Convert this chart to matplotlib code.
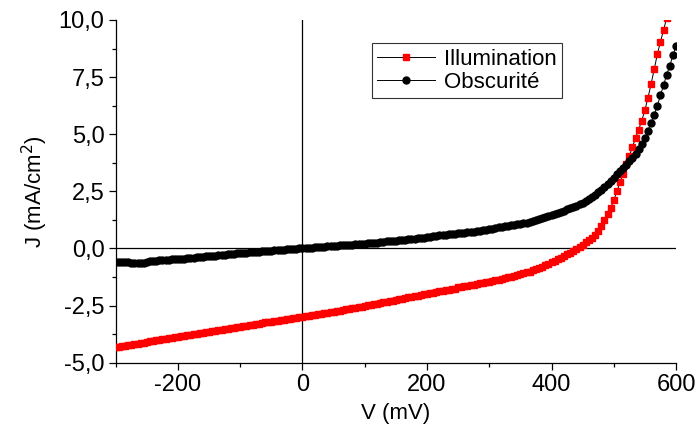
import numpy as np
import matplotlib
matplotlib.use("Agg")
import matplotlib.pyplot as plt
from matplotlib.ticker import MultipleLocator, FuncFormatter

plt.rcParams['font.family'] = ['Liberation Sans', 'DejaVu Sans']
plt.rcParams['axes.unicode_minus'] = False

# voltage sweep (mV), 5 mV step
volts = list(range(-300, 605, 5))

# current density under light (mA/cm2)
j_illum = [-4.33, -4.31, -4.28, -4.26, -4.24, -4.22, -4.20, -4.17, -4.15, -4.12,
           -4.10, -4.07, -4.05, -4.02, -4.00, -3.98, -3.96, -3.94, -3.92, -3.89,
           -3.87, -3.85, -3.83, -3.80, -3.78, -3.76, -3.74, -3.71, -3.69, -3.66,
           -3.64, -3.62, -3.60, -3.58, -3.56, -3.53, -3.51, -3.49, -3.47, -3.44,
           -3.42, -3.40, -3.38, -3.35, -3.33, -3.31, -3.29, -3.26, -3.24, -3.22,
           -3.20, -3.18, -3.16, -3.14, -3.12, -3.09, -3.07, -3.05, -3.03, -3.01,
           -2.99, -2.97, -2.95, -2.92, -2.90, -2.88, -2.86, -2.83, -2.81, -2.79,
           -2.77, -2.74, -2.72, -2.69, -2.67, -2.64, -2.62, -2.59, -2.57, -2.54,
           -2.52, -2.49, -2.47, -2.44, -2.41, -2.39, -2.36, -2.33, -2.30, -2.28,
           -2.25, -2.22, -2.20, -2.17, -2.14, -2.12, -2.09, -2.06, -2.03, -2.01,
           -1.98, -1.96, -1.93, -1.91, -1.88, -1.86, -1.83, -1.81, -1.78, -1.76,
           -1.70, -1.68, -1.66, -1.63, -1.61, -1.58, -1.56, -1.53, -1.50, -1.48,
           -1.45, -1.42, -1.39, -1.36, -1.33, -1.30, -1.27, -1.24, -1.20, -1.17,
           -1.13, -1.09, -1.05, -1.01, -0.96, -0.91, -0.86, -0.79, -0.72, -0.66,
           -0.60, -0.54, -0.47, -0.40, -0.33, -0.26, -0.18, -0.11, -0.04, 0.06,
           0.16, 0.27, 0.38, 0.48, 0.60, 0.75, 1.00, 1.25, 1.50, 1.78,
           2.10, 2.50, 2.90, 3.28, 3.68, 4.05, 4.45, 4.84, 5.20, 5.60,
           6.05, 6.60, 7.20, 7.85, 8.50, 9.05, 9.55, 10.10, 10.70, 11.30,
           11.90]

# current density in the dark (mA/cm2)
j_dark = [-0.60, -0.59, -0.60, -0.61, -0.61, -0.62, -0.63, -0.65, -0.64, -0.62,
          -0.58, -0.56, -0.55, -0.54, -0.52, -0.51, -0.50, -0.49, -0.48, -0.47,
          -0.46, -0.45, -0.44, -0.42, -0.41, -0.40, -0.39, -0.37, -0.36, -0.35,
          -0.34, -0.32, -0.31, -0.30, -0.29, -0.27, -0.26, -0.24, -0.23, -0.22,
          -0.21, -0.20, -0.19, -0.17, -0.16, -0.15, -0.14, -0.12, -0.11, -0.10,
          -0.09, -0.08, -0.07, -0.06, -0.05, -0.04, -0.03, -0.02, -0.01, 0.00,
          0.00, 0.02, 0.03, 0.04, 0.05, 0.06, 0.07, 0.08, 0.09, 0.10,
          0.11, 0.12, 0.13, 0.14, 0.15, 0.16, 0.17, 0.18, 0.19, 0.20,
          0.21, 0.23, 0.24, 0.25, 0.26, 0.28, 0.29, 0.31, 0.32, 0.33,
          0.34, 0.36, 0.37, 0.39, 0.40, 0.42, 0.43, 0.45, 0.46, 0.48,
          0.49, 0.51, 0.53, 0.55, 0.57, 0.59, 0.60, 0.62, 0.63, 0.65,
          0.66, 0.68, 0.69, 0.71, 0.72, 0.74, 0.76, 0.78, 0.80, 0.82,
          0.84, 0.87, 0.90, 0.92, 0.94, 0.97, 0.99, 1.01, 1.03, 1.06,
          1.08, 1.10, 1.13, 1.16, 1.20, 1.24, 1.28, 1.32, 1.36, 1.40,
          1.45, 1.50, 1.55, 1.60, 1.66, 1.71, 1.77, 1.82, 1.88, 1.94,
          2.00, 2.08, 2.15, 2.25, 2.35, 2.45, 2.56, 2.69, 2.82, 2.96,
          3.10, 3.24, 3.38, 3.52, 3.66, 3.82, 3.97, 4.15, 4.35, 4.58,
          4.85, 5.15, 5.50, 5.85, 6.25, 6.70, 7.15, 7.60, 8.00, 8.45,
          8.85]

fig = plt.figure(figsize=(6.98, 4.30), dpi=100)
ax = fig.add_axes([0.1658, 0.1565, 0.8027, 0.797])

ax.axhline(0, color='black', lw=0.9, zorder=1)
ax.axvline(0, color='black', lw=0.9, zorder=1)

ax.plot(volts, j_illum, color='black', lw=0.7, marker='s', ms=5.0,
        mfc='red', mec='red', label='Illumination', zorder=3)
ax.plot(volts, j_dark, color='black', lw=0.7, marker='o', ms=5.0,
        mfc='black', mec='black', label='Obscurité', zorder=4)

ax.set_xlim(-300, 600)
ax.set_ylim(-5, 10)
ax.set_xticks([-200, 0, 200, 400, 600])
ax.xaxis.set_minor_locator(MultipleLocator(100))
ax.yaxis.set_major_locator(MultipleLocator(2.5))
ax.yaxis.set_minor_locator(MultipleLocator(1.25))
ax.yaxis.set_major_formatter(FuncFormatter(lambda y, p: f"{y:.1f}".replace('.', ',')))

for s in ['top', 'right']:
    ax.spines[s].set_visible(False)
for s in ['left', 'bottom']:
    ax.spines[s].set_linewidth(0.9)
ax.tick_params(which='major', direction='out', length=5, width=0.9, labelsize=17, pad=3)
ax.tick_params(which='minor', direction='out', length=3, width=0.9)

ax.set_xlabel('V (mV)', fontsize=16, labelpad=5)
ax.set_ylabel('J (mA/cm$^2$)', fontsize=16, labelpad=6)

leg = ax.legend(loc='upper left', bbox_to_anchor=(0.457, 0.933), fontsize=16,
                frameon=True, fancybox=False, edgecolor='black',
                handlelength=2.6, borderpad=0.25, labelspacing=0.1,
                handletextpad=0.4, borderaxespad=0)
leg.get_frame().set_linewidth(0.8)

fig.savefig('out.png', dpi=100)
